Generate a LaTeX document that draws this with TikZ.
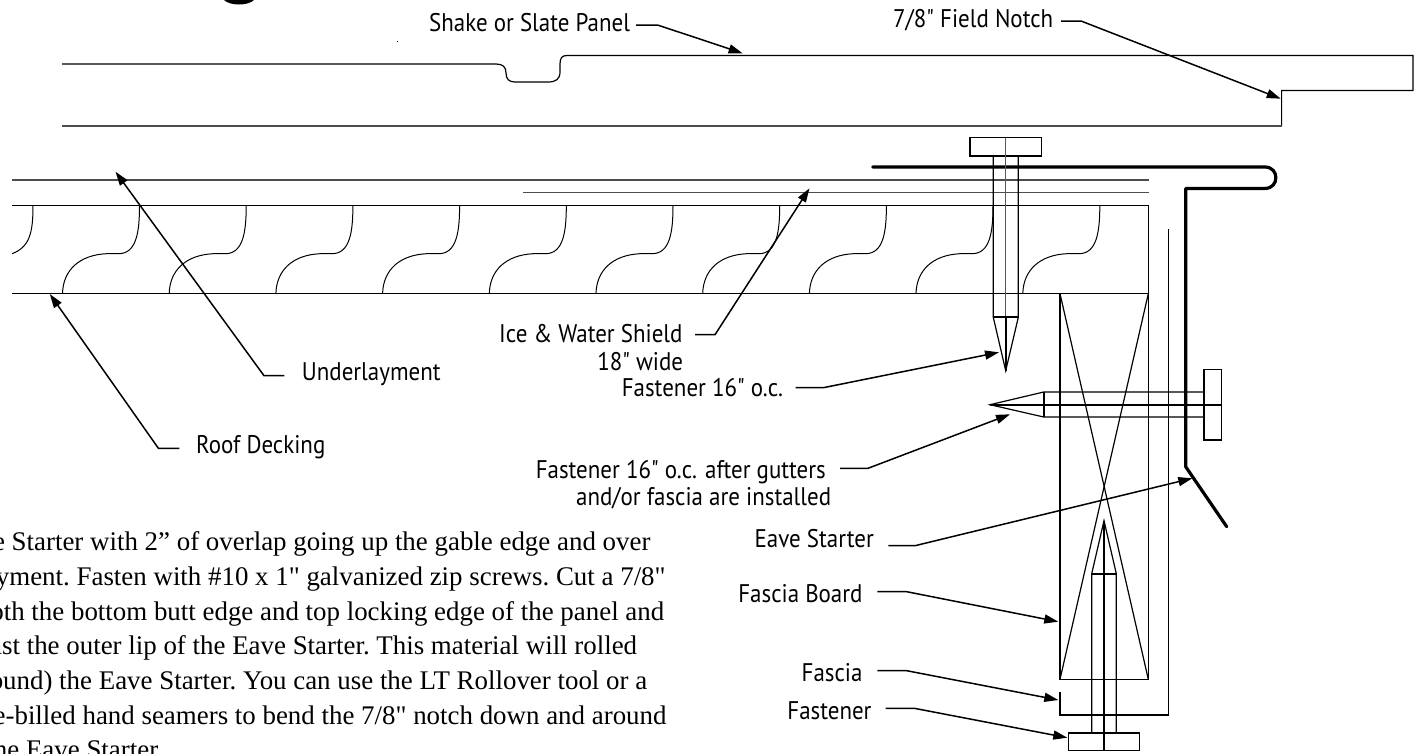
\documentclass[tikz,border=0pt]{standalone}
\usepackage{fontspec}
\newfontfamily\parafont{Liberation Serif}
\newfontfamily\labelfont[FakeStretch=0.9]{PT Sans}
\usetikzlibrary{arrows.meta}
\tikzset{
  thinline/.style={line width=1.2pt,black},
  greyline/.style={line width=1.4pt,black!70},
  grain/.style={line width=1pt,black},
  boltline/.style={line width=1.2pt,black},
  boltaxis/.style={line width=1.7pt,black},
  boltaxisgrey/.style={line width=1.5pt,black!65},
  metal/.style={line width=3.2pt,black,line cap=round,line join=round},
  leader/.style={line width=1.5pt,black,-{Triangle[length=14pt,width=9pt]}},
  lab/.style={font=\labelfont\fontsize{25.5}{25.5}\selectfont,inner sep=0pt,text=black},
  para/.style={font=\parafont\frenchspacing\fontsize{26.9}{26.9}\selectfont,inner sep=0pt,text=black,anchor=base east},
}
\begin{document}
\begin{tikzpicture}[x=1pt,y=-1pt]
\useasboundingbox (0,0) rectangle (1419,753);
\clip (0,0) rectangle (1419,753);
% title fragment and speck
\fill (224,0) .. controls (230,6) and (248,6) .. (254,0) -- cycle;
\fill (397.2,40.5) rectangle (398.2,42);
% panel
\draw[thinline] (62,64) -- (496,64) .. controls (503,64) and (506,67) .. (506,73)
  .. controls (506,79) and (509,82) .. (515,82) -- (548,82)
  .. controls (556,82) and (560,79) .. (560,72) -- (560,64)
  .. controls (560,58) and (562,55.5) .. (567,55.5) -- (1413,55.5) -- (1413,90.5) -- (1281.6,90.5) -- (1281.6,126);
\draw[greyline] (1281.6,126) -- (62,126);
% underlayment, ice and water
\draw[greyline] (12,180) -- (1149,180);
\draw[greyline] (523,192.7) -- (1149,192.7);
% decking
\draw[thinline] (12,205.7) -- (1148.6,205.7) -- (1148.6,293.7) -- (12,293.7);
\draw[grain] (33,205.7) .. controls (33,232) and (30,247) .. (12,253.7);
\foreach \t in {139.5,246.2,352.9,459.6,566.3,673,779.7,886.4,993,1099.8}{
  \draw[grain] (\t,205.7) .. controls (\t,232) and (\t-3,253.7) .. (\t-21,253.7) -- (\t-33,253.7)
    .. controls (\t-60,255) and (\t-76.5,270) .. (\t-77,293.7);
}
% fascia board
\draw[thinline] (1060,293.7) -- (1060,679.3) -- (1148.3,679.3) -- (1148.3,293.7);
\draw[thinline] (1060,293.7) -- (1148.3,679.3);
\draw[thinline] (1148.3,293.7) -- (1060,679.3);
% fascia trim line
\draw[thinline] (1168.3,229) -- (1168.3,715) -- (1060,715) -- (1060,691.7);
% eave starter
\draw[metal] (872.8,167) -- (1265,167) .. controls (1279.5,167) and (1279.5,188.4) .. (1265,188.4)
  -- (1185.7,188.4) -- (1185.7,466.7) -- (1226.7,526.7);
% vertical fastener
\draw[boltline] (970,137.7) rectangle (1041.7,156);
\draw[boltline] (993.3,156) -- (993.3,317.3) -- (1005.7,370.7) -- (1018.3,317.3) -- (1018.3,156);
\draw[boltaxisgrey] (1005.7,137.7) -- (1005.7,317.3);
\draw[boltaxis] (1005.7,317.3) -- (1005.7,370.7);
\draw[boltaxis] (993.3,317.3) -- (1018.3,317.3);
% horizontal fastener
\draw[boltline] (1204,369.3) rectangle (1221.7,440);
\draw[boltline] (1204,392) -- (1043.7,392) -- (990,404.7) -- (1043.7,417) -- (1204,417);
\draw[boltaxis] (990,404.7) -- (1221.7,404.7);
\draw[boltaxis] (1043.7,392) -- (1043.7,417);
% bottom fastener
\draw[boltline] (1068.7,732.7) rectangle (1139.7,750.3);
\draw[boltline] (1091.7,732.7) -- (1091.7,573.7) -- (1104,520.7) -- (1116.3,573.7) -- (1116.3,732.7);
\draw[boltaxis] (1104,520.7) -- (1104,750.3);
\draw[boltaxis] (1091.7,573.7) -- (1116.3,573.7);
\draw[boltaxis] (1068.7,732.7) -- (1139.7,732.7);
% labels
\node[lab,anchor=base west] (shake) at (429,31) {Shake or Slate Panel};
\node[lab,anchor=base west] (notch) at (893,27) {7/8" Field Notch};
\node[lab,anchor=base west] (under) at (301.7,380.7) {Underlayment};
\node[lab,anchor=base west] (deck) at (196,453) {Roof Decking};
\node[lab,anchor=base east] (ice) at (682.7,342.7) {Ice \& Water Shield};
\node[lab,anchor=base east] (icew) at (683.3,370) {18" wide};
\node[lab,anchor=base east] (fast) at (783.3,396.7) {Fastener 16" o.c.};
\node[lab,anchor=base east] (gut) at (826,478) {Fastener 16" o.c. after gutters};
\node[lab,anchor=base west] (gutb) at (576,505) {and/or fascia are installed};
\node[lab,anchor=base east] (eave) at (874,547.7) {Eave Starter};
\node[lab,anchor=base east] (board) at (862.7,602.3) {Fascia Board};
\node[lab,anchor=base east] (fascia) at (862.7,681) {Fascia};
\node[lab,anchor=base east] (fastb) at (871.7,719) {Fastener};
% leaders
\coordinate (shakeS) at (636,25); \coordinate (shakeE) at (657.6,25); \coordinate (shakeT) at (742.6,53.3);
\coordinate (notchS) at (1061,21); \coordinate (notchE) at (1081,21); \coordinate (notchT) at (1280.7,98.7);
\coordinate (underS) at (284.3,375.7); \coordinate (underE) at (264,375.7); \coordinate (underT) at (115.5,171.7);
\coordinate (deckS) at (179.3,448.3); \coordinate (deckE) at (158.4,448.3); \coordinate (deckT) at (49.8,294);
\coordinate (iceS) at (695,334.7); \coordinate (iceE) at (715,334.7); \coordinate (iceT) at (809.5,188.3);
\coordinate (fastS) at (795.7,387.7); \coordinate (fastE) at (823.3,387.7); \coordinate (fastT) at (999,352.3);
\coordinate (gutS) at (840,468.3); \coordinate (gutE) at (868,468.3); \coordinate (gutT) at (1010,414.3);
\coordinate (eaveS) at (888.3,545.7); \coordinate (eaveE) at (915,545.7); \coordinate (eaveT) at (1192.3,478.3);
\coordinate (boardS) at (877.3,591.7); \coordinate (boardE) at (906.7,591.7); \coordinate (boardT) at (1058.3,621.7);
\coordinate (fasciaS) at (877.3,670.7); \coordinate (fasciaE) at (906.7,670.7); \coordinate (fasciaT) at (1058.3,700);
\coordinate (fastbS) at (885.7,708.3); \coordinate (fastbE) at (914.3,708.3); \coordinate (fastbT) at (1067.3,737.7);
\foreach \n in {shake,notch,under,deck,ice,fast,gut,eave,board,fascia,fastb}{
  \draw[leader] (\n S) -- (\n E) -- (\n T);
}
% paragraph
\node[para] (p1) at (650.6,550.7) {e Starter with 2” of overlap going up the gable edge and over};
\node[para] (p2) at (665.8,585.4) {ayment. Fasten with \#10 x 1" galvanized zip screws. Cut a 7/8"};
\node[para] (p3) at (664.4,620) {oth the bottom butt edge and top locking edge of the panel and};
\node[para] (p4) at (637.3,654.7) {ast the outer lip of the Eave Starter. This material will rolled};
\node[para] (p5) at (647.4,689.4) {ound) the Eave Starter. You can use the LT Rollover tool or a};
\node[para] (p6) at (666.7,724) {e-billed hand seamers to bend the 7/8" notch down and around};
\node[para] (p7) at (158.4,758.8) {he Eave Starter};
\end{tikzpicture}
\end{document}
